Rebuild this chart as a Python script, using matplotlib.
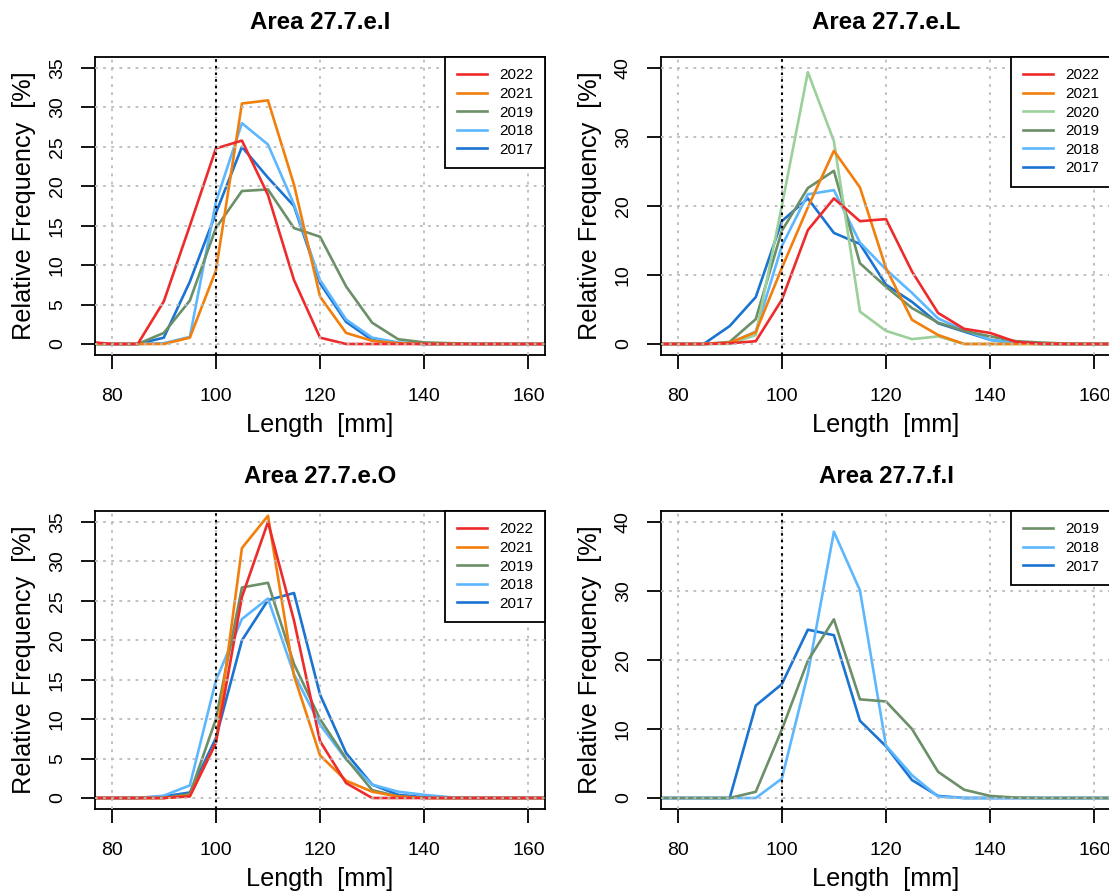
import matplotlib
matplotlib.use("Agg")
import matplotlib.pyplot as plt

plt.rcParams['font.family'] = ['Liberation Sans', 'DejaVu Sans']

# length classes (mm)
lengths = [75, 80, 85, 90, 95, 100, 105, 110, 115, 120, 125, 130, 135, 140, 145, 150, 155, 160, 165]

# Area 27.7.e.I
eI_2022 = [0.3, 0, 0, 5.4, 15.0, 24.8, 25.8, 18.9, 8.1, 0.8, 0, 0, 0, 0, 0, 0, 0, 0, 0]
eI_2021 = [0, 0, 0, 0, 0.8, 9.3, 30.5, 30.9, 20.2, 6.0, 1.4, 0.4, 0.1, 0, 0, 0, 0, 0, 0]
eI_2019 = [0, 0, 0, 1.4, 5.5, 14.7, 19.4, 19.6, 14.7, 13.6, 7.3, 2.7, 0.6, 0.2, 0.1, 0, 0, 0, 0]
eI_2018 = [0, 0, 0, 0.1, 0.9, 18.0, 28.0, 25.3, 17.7, 8.1, 3.1, 0.8, 0.2, 0, 0, 0, 0, 0, 0]
eI_2017 = [0, 0, 0, 0.8, 7.9, 16.6, 25.0, 21.1, 17.5, 7.7, 2.8, 0.5, 0.1, 0, 0, 0, 0, 0, 0]

# Area 27.7.e.L
eL_2022 = [0, 0, 0, 0.1, 0.4, 6.4, 16.5, 21.1, 17.8, 18.1, 10.5, 4.5, 2.2, 1.6, 0.3, 0.05, 0, 0, 0]
eL_2021 = [0, 0, 0, 0.2, 1.7, 11.0, 19.8, 28.0, 22.7, 11.0, 3.5, 1.3, 0, 0, 0, 0, 0, 0, 0]
eL_2020 = [0, 0, 0, 0, 1.3, 20.0, 39.4, 29.4, 4.7, 1.9, 0.7, 1.1, 0, 0, 0, 0, 0, 0, 0]
eL_2019 = [0, 0, 0, 0.3, 3.6, 16.4, 22.6, 25.1, 11.7, 8.3, 5.2, 3.1, 1.9, 1.1, 0.4, 0.2, 0.05, 0, 0]
eL_2018 = [0, 0, 0, 0.1, 1.8, 14.2, 21.7, 22.3, 14.7, 10.8, 7.4, 3.7, 2.0, 0.6, 0.1, 0, 0, 0, 0]
eL_2017 = [0, 0, 0, 2.6, 6.8, 17.8, 21.1, 16.1, 14.5, 8.6, 6.1, 3.0, 1.8, 0.6, 0.1, 0, 0, 0, 0]

# Area 27.7.e.O
eO_2022 = [0, 0, 0, 0, 0.2, 7.0, 25.5, 35.0, 22.5, 7.2, 1.9, 0, 0, 0, 0, 0, 0, 0, 0]
eO_2021 = [0, 0, 0, 0, 0.3, 7.0, 31.7, 35.8, 15.5, 5.4, 2.2, 0.8, 0.2, 0, 0, 0, 0, 0, 0]
eO_2019 = [0, 0, 0, 0, 0.5, 10.0, 26.7, 27.3, 17.0, 10.0, 5.0, 1.0, 0.2, 0, 0, 0, 0, 0, 0]
eO_2018 = [0, 0, 0, 0.3, 1.6, 14.9, 22.7, 25.3, 15.7, 9.3, 4.9, 1.7, 0.8, 0.4, 0.1, 0, 0, 0, 0]
eO_2017 = [0, 0, 0, 0.2, 0.7, 7.6, 20.0, 25.1, 26.0, 13.1, 5.7, 1.7, 0.4, 0.1, 0, 0, 0, 0, 0]

# Area 27.7.f.I
fI_2019 = [0, 0, 0, 0, 0.9, 9.9, 19.9, 25.9, 14.3, 14.0, 10.0, 3.8, 1.2, 0.3, 0.05, 0, 0, 0, 0]
fI_2018 = [0, 0, 0, 0, 0, 2.8, 18.0, 38.6, 30.1, 7.6, 3.3, 0.2, 0, 0, 0, 0, 0, 0, 0]
fI_2017 = [0, 0, 0, 0, 13.4, 16.5, 24.4, 23.6, 11.2, 7.5, 2.6, 0.3, 0, 0, 0, 0, 0, 0, 0]

year_colors = {'2022': '#EE2B2B', '2021': '#F27E0C', '2020': '#9BD09A',
               '2019': '#6B8F67', '2018': '#5DB7FF', '2017': '#1B73D2'}

panels = [
    ("Area 27.7.e.I", [('2022', eI_2022), ('2021', eI_2021), ('2019', eI_2019),
                       ('2018', eI_2018), ('2017', eI_2017)], 35, 5),
    ("Area 27.7.e.L", [('2022', eL_2022), ('2021', eL_2021), ('2020', eL_2020),
                       ('2019', eL_2019), ('2018', eL_2018), ('2017', eL_2017)], 40, 10),
    ("Area 27.7.e.O", [('2022', eO_2022), ('2021', eO_2021), ('2019', eO_2019),
                       ('2018', eO_2018), ('2017', eO_2017)], 35, 5),
    ("Area 27.7.f.I", [('2019', fI_2019), ('2018', fI_2018), ('2017', fI_2017)], 40, 10),
]

positions = [[0.0857, 0.6020, 0.4058, 0.3341],
             [0.5960, 0.6020, 0.4058, 0.3341],
             [0.0857, 0.0930, 0.4058, 0.3341],
             [0.5960, 0.0930, 0.4058, 0.3341]]

fig = plt.figure(figsize=(11.09, 8.92), dpi=100)

for p in range(len(panels)):
    title, series, ymax, ystep = panels[p]
    ax = fig.add_axes(positions[p])
    # draw oldest first so the newest year lies on top
    handles = {}
    for year, vals in reversed(series):
        ln, = ax.plot(lengths, vals, color=year_colors[year], linewidth=1.9,
                      label=year, zorder=2)
        handles[year] = ln
    xt = [80, 100, 120, 140, 160]
    yt = list(range(0, ymax + 1, ystep))
    for x in xt:
        ax.axvline(x, color='#BBBBBB', linestyle=(0, (1.5, 3.0)), linewidth=1.3, zorder=3)
    for y in yt:
        ax.axhline(y, color='#BBBBBB', linestyle=(0, (1.5, 3.0)), linewidth=1.3, zorder=3)
    ax.axvline(100, color='black', linestyle=(0, (1.2, 2.0)), linewidth=1.5, zorder=4)

    ax.set_xlim(76.8, 163.2)
    ax.set_ylim(-0.04 * ymax, 1.04 * ymax)
    ax.set_xticks(xt)
    ax.set_yticks(yt)
    ax.set_yticklabels([str(v) for v in yt], rotation=90, va='center')
    ax.tick_params(axis='both', direction='out', length=10, width=1.3, labelsize=14)
    ax.tick_params(axis='x', pad=14)
    ax.tick_params(axis='y', pad=11)
    for s in ax.spines.values():
        s.set_linewidth(1.3)

    ax.text(0.5, 1.117, title, transform=ax.transAxes, ha='center', va='center',
            fontsize=17.3, fontweight='bold')
    ax.text(0.5, -0.235, 'Length  [mm]', transform=ax.transAxes, ha='center',
            va='center', fontsize=18.2)
    ax.text(-0.157, 0.5, 'Relative Frequency  [%]', transform=ax.transAxes,
            ha='center', va='center', rotation=90, fontsize=18.2)

    years = [s[0] for s in series]
    leg = ax.legend([handles[y] for y in years], years, loc='upper right',
                    bbox_to_anchor=(1, 1), borderaxespad=0, fontsize=11,
                    fancybox=False, framealpha=1, edgecolor='black',
                    borderpad=0.75, handletextpad=0.8, handlelength=2.0,
                    labelspacing=0.3)
    leg.get_frame().set_linewidth(1.3)
    leg.set_zorder(5)

plt.savefig('out.png', dpi=100)
